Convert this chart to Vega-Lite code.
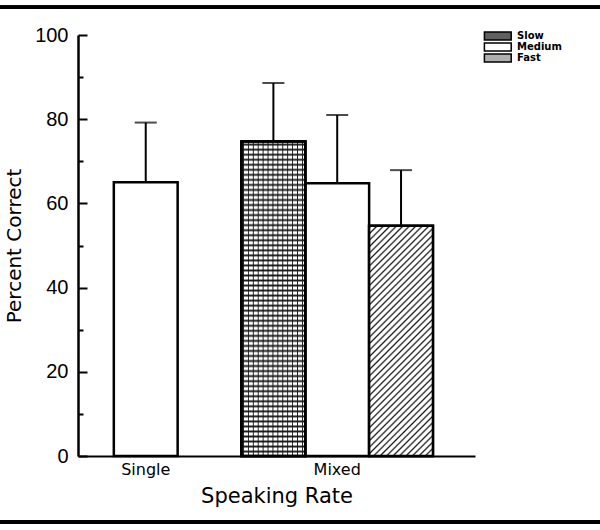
{
  "$schema": "https://vega.github.io/schema/vega-lite/v6.json",
  "width": 600,
  "height": 530,
  "autosize": {"type": "none"},
  "padding": 0,
  "background": "white",
  "config": {"view": {"stroke": null}, "font": "DejaVu Sans"},
  "data": {
    "values": [
      {"Rate": "Single", "Speed": "Medium", "Bar": "Single Medium", "pct": 65, "hi": 79.2},
      {"Rate": "Mixed", "Speed": "Slow", "Bar": "Mixed Slow", "pct": 74.7, "hi": 88.6},
      {"Rate": "Mixed", "Speed": "Medium", "Bar": "Mixed Medium", "pct": 64.8, "hi": 81},
      {"Rate": "Mixed", "Speed": "Fast", "Bar": "Mixed Fast", "pct": 54.7, "hi": 67.9}
    ]
  },
  "layer": [
    {
      "mark": {"type": "bar", "stroke": "black", "strokeWidth": 2.5},
      "encoding": {
        "x": {
          "field": "Bar",
          "type": "nominal",
          "sort": null,
          "scale": {
            "domain": ["Single Medium", "gap", "Mixed Slow", "Mixed Medium", "Mixed Fast"],
            "range": [78, 475],
            "paddingInner": 0,
            "paddingOuter": 0.61,
            "align": 0.46
          },
          "axis": {
            "title": "Speaking Rate",
            "labelExpr": "datum.value == 'Single Medium' ? 'Single' : datum.value == 'Mixed Medium' ? 'Mixed' : ''",
            "ticks": false,
            "offset": -74,
            "domainWidth": 2,
            "domainColor": "black",
            "labelAngle": 0,
            "labelFont": "DejaVu Sans",
            "labelFontSize": 16,
            "labelColor": "black",
            "labelPadding": 5,
            "titleFont": "DejaVu Sans",
            "titleFontSize": 21,
            "titleFontWeight": "normal",
            "titleColor": "black",
            "titlePadding": 8
          }
        },
        "y": {
          "field": "pct",
          "type": "quantitative",
          "scale": {"domain": [0, 100], "range": [456, 35], "nice": false},
          "axis": {
            "title": "Percent Correct",
            "values": [0, 10, 20, 30, 40, 50, 60, 70, 80, 90, 100],
            "labelExpr": "datum.value % 20 === 0 ? datum.label : ''",
            "tickSize": {"condition": {"test": "datum.value % 20 === 0", "value": -9}, "value": -5},
            "offset": -78,
            "grid": false,
            "domainWidth": 2.5,
            "domainColor": "black",
            "tickColor": "black",
            "tickWidth": 2,
            "labelFont": "Liberation Sans",
            "labelFontSize": 20,
            "labelColor": "black",
            "labelPadding": 19,
            "titleFont": "DejaVu Sans",
            "titleFontSize": 20,
            "titleFontWeight": "normal",
            "titleColor": "black",
            "titlePadding": 10
          }
        },
        "fill": {
          "field": "Speed",
          "type": "nominal",
          "scale": {"domain": ["Slow", "Medium", "Fast"], "range": ["#606060", "#ffffff", "#b0b0b0"]},
          "legend": {
            "orient": "none",
            "legendX": 483,
            "legendY": 30.5,
            "title": null,
            "padding": 0,
            "symbolType": "M-0.9,-1H5.8V1H-0.9Z",
            "symbolSize": 64,
            "symbolStrokeColor": "black",
            "symbolStrokeWidth": 1.5,
            "symbolOpacity": 1,
            "labelFont": "DejaVu Sans",
            "labelFontSize": 10,
            "labelFontWeight": "bold",
            "labelColor": "black",
            "labelOffset": 24,
            "clipHeight": 11,
            "rowPadding": 0
          }
        }
      }
    },
    {
      "transform": [{"filter": "datum.Speed == 'Slow'"}],
      "mark": {
        "type": "bar", "stroke": "black", "strokeWidth": 2.5,
        "fill": {"gradient": "linear", "x1": 0, "y1": 0, "x2": 0, "y2": 1, "stops": [
          {"offset": 0.004, "color": "#fff"}, {"offset": 0.010, "color": "#1a1a1a"}, {"offset": 0.016, "color": "#fff"},
          {"offset": 0.020, "color": "#fff"}, {"offset": 0.026, "color": "#1a1a1a"}, {"offset": 0.032, "color": "#fff"},
          {"offset": 0.036, "color": "#fff"}, {"offset": 0.042, "color": "#1a1a1a"}, {"offset": 0.048, "color": "#fff"},
          {"offset": 0.052, "color": "#fff"}, {"offset": 0.058, "color": "#1a1a1a"}, {"offset": 0.064, "color": "#fff"},
          {"offset": 0.068, "color": "#fff"}, {"offset": 0.074, "color": "#1a1a1a"}, {"offset": 0.080, "color": "#fff"},
          {"offset": 0.084, "color": "#fff"}, {"offset": 0.090, "color": "#1a1a1a"}, {"offset": 0.096, "color": "#fff"},
          {"offset": 0.100, "color": "#fff"}, {"offset": 0.106, "color": "#1a1a1a"}, {"offset": 0.112, "color": "#fff"},
          {"offset": 0.116, "color": "#fff"}, {"offset": 0.122, "color": "#1a1a1a"}, {"offset": 0.128, "color": "#fff"},
          {"offset": 0.132, "color": "#fff"}, {"offset": 0.138, "color": "#1a1a1a"}, {"offset": 0.144, "color": "#fff"},
          {"offset": 0.148, "color": "#fff"}, {"offset": 0.154, "color": "#1a1a1a"}, {"offset": 0.160, "color": "#fff"},
          {"offset": 0.164, "color": "#fff"}, {"offset": 0.170, "color": "#1a1a1a"}, {"offset": 0.176, "color": "#fff"},
          {"offset": 0.180, "color": "#fff"}, {"offset": 0.186, "color": "#1a1a1a"}, {"offset": 0.192, "color": "#fff"},
          {"offset": 0.196, "color": "#fff"}, {"offset": 0.202, "color": "#1a1a1a"}, {"offset": 0.208, "color": "#fff"},
          {"offset": 0.212, "color": "#fff"}, {"offset": 0.218, "color": "#1a1a1a"}, {"offset": 0.224, "color": "#fff"},
          {"offset": 0.228, "color": "#fff"}, {"offset": 0.234, "color": "#1a1a1a"}, {"offset": 0.240, "color": "#fff"},
          {"offset": 0.244, "color": "#fff"}, {"offset": 0.250, "color": "#1a1a1a"}, {"offset": 0.256, "color": "#fff"},
          {"offset": 0.260, "color": "#fff"}, {"offset": 0.266, "color": "#1a1a1a"}, {"offset": 0.272, "color": "#fff"},
          {"offset": 0.276, "color": "#fff"}, {"offset": 0.282, "color": "#1a1a1a"}, {"offset": 0.288, "color": "#fff"},
          {"offset": 0.292, "color": "#fff"}, {"offset": 0.298, "color": "#1a1a1a"}, {"offset": 0.304, "color": "#fff"},
          {"offset": 0.308, "color": "#fff"}, {"offset": 0.314, "color": "#1a1a1a"}, {"offset": 0.320, "color": "#fff"},
          {"offset": 0.324, "color": "#fff"}, {"offset": 0.330, "color": "#1a1a1a"}, {"offset": 0.336, "color": "#fff"},
          {"offset": 0.340, "color": "#fff"}, {"offset": 0.346, "color": "#1a1a1a"}, {"offset": 0.352, "color": "#fff"},
          {"offset": 0.356, "color": "#fff"}, {"offset": 0.362, "color": "#1a1a1a"}, {"offset": 0.368, "color": "#fff"},
          {"offset": 0.372, "color": "#fff"}, {"offset": 0.378, "color": "#1a1a1a"}, {"offset": 0.384, "color": "#fff"},
          {"offset": 0.388, "color": "#fff"}, {"offset": 0.394, "color": "#1a1a1a"}, {"offset": 0.400, "color": "#fff"},
          {"offset": 0.404, "color": "#fff"}, {"offset": 0.410, "color": "#1a1a1a"}, {"offset": 0.416, "color": "#fff"},
          {"offset": 0.420, "color": "#fff"}, {"offset": 0.426, "color": "#1a1a1a"}, {"offset": 0.432, "color": "#fff"},
          {"offset": 0.436, "color": "#fff"}, {"offset": 0.442, "color": "#1a1a1a"}, {"offset": 0.448, "color": "#fff"},
          {"offset": 0.452, "color": "#fff"}, {"offset": 0.458, "color": "#1a1a1a"}, {"offset": 0.464, "color": "#fff"},
          {"offset": 0.468, "color": "#fff"}, {"offset": 0.474, "color": "#1a1a1a"}, {"offset": 0.480, "color": "#fff"},
          {"offset": 0.484, "color": "#fff"}, {"offset": 0.490, "color": "#1a1a1a"}, {"offset": 0.496, "color": "#fff"},
          {"offset": 0.500, "color": "#fff"}, {"offset": 0.506, "color": "#1a1a1a"}, {"offset": 0.512, "color": "#fff"},
          {"offset": 0.516, "color": "#fff"}, {"offset": 0.522, "color": "#1a1a1a"}, {"offset": 0.528, "color": "#fff"},
          {"offset": 0.532, "color": "#fff"}, {"offset": 0.538, "color": "#1a1a1a"}, {"offset": 0.544, "color": "#fff"},
          {"offset": 0.548, "color": "#fff"}, {"offset": 0.554, "color": "#1a1a1a"}, {"offset": 0.560, "color": "#fff"},
          {"offset": 0.564, "color": "#fff"}, {"offset": 0.570, "color": "#1a1a1a"}, {"offset": 0.576, "color": "#fff"},
          {"offset": 0.580, "color": "#fff"}, {"offset": 0.586, "color": "#1a1a1a"}, {"offset": 0.592, "color": "#fff"},
          {"offset": 0.596, "color": "#fff"}, {"offset": 0.602, "color": "#1a1a1a"}, {"offset": 0.608, "color": "#fff"},
          {"offset": 0.612, "color": "#fff"}, {"offset": 0.618, "color": "#1a1a1a"}, {"offset": 0.624, "color": "#fff"},
          {"offset": 0.628, "color": "#fff"}, {"offset": 0.634, "color": "#1a1a1a"}, {"offset": 0.640, "color": "#fff"},
          {"offset": 0.644, "color": "#fff"}, {"offset": 0.650, "color": "#1a1a1a"}, {"offset": 0.656, "color": "#fff"},
          {"offset": 0.660, "color": "#fff"}, {"offset": 0.666, "color": "#1a1a1a"}, {"offset": 0.672, "color": "#fff"},
          {"offset": 0.676, "color": "#fff"}, {"offset": 0.682, "color": "#1a1a1a"}, {"offset": 0.688, "color": "#fff"},
          {"offset": 0.692, "color": "#fff"}, {"offset": 0.698, "color": "#1a1a1a"}, {"offset": 0.704, "color": "#fff"},
          {"offset": 0.708, "color": "#fff"}, {"offset": 0.714, "color": "#1a1a1a"}, {"offset": 0.720, "color": "#fff"},
          {"offset": 0.724, "color": "#fff"}, {"offset": 0.730, "color": "#1a1a1a"}, {"offset": 0.736, "color": "#fff"},
          {"offset": 0.740, "color": "#fff"}, {"offset": 0.746, "color": "#1a1a1a"}, {"offset": 0.752, "color": "#fff"},
          {"offset": 0.756, "color": "#fff"}, {"offset": 0.762, "color": "#1a1a1a"}, {"offset": 0.768, "color": "#fff"},
          {"offset": 0.772, "color": "#fff"}, {"offset": 0.778, "color": "#1a1a1a"}, {"offset": 0.784, "color": "#fff"},
          {"offset": 0.788, "color": "#fff"}, {"offset": 0.794, "color": "#1a1a1a"}, {"offset": 0.800, "color": "#fff"},
          {"offset": 0.804, "color": "#fff"}, {"offset": 0.810, "color": "#1a1a1a"}, {"offset": 0.816, "color": "#fff"},
          {"offset": 0.820, "color": "#fff"}, {"offset": 0.826, "color": "#1a1a1a"}, {"offset": 0.832, "color": "#fff"},
          {"offset": 0.836, "color": "#fff"}, {"offset": 0.842, "color": "#1a1a1a"}, {"offset": 0.848, "color": "#fff"},
          {"offset": 0.852, "color": "#fff"}, {"offset": 0.858, "color": "#1a1a1a"}, {"offset": 0.864, "color": "#fff"},
          {"offset": 0.868, "color": "#fff"}, {"offset": 0.874, "color": "#1a1a1a"}, {"offset": 0.880, "color": "#fff"},
          {"offset": 0.884, "color": "#fff"}, {"offset": 0.890, "color": "#1a1a1a"}, {"offset": 0.896, "color": "#fff"},
          {"offset": 0.900, "color": "#fff"}, {"offset": 0.906, "color": "#1a1a1a"}, {"offset": 0.912, "color": "#fff"},
          {"offset": 0.916, "color": "#fff"}, {"offset": 0.922, "color": "#1a1a1a"}, {"offset": 0.928, "color": "#fff"},
          {"offset": 0.932, "color": "#fff"}, {"offset": 0.938, "color": "#1a1a1a"}, {"offset": 0.944, "color": "#fff"},
          {"offset": 0.948, "color": "#fff"}, {"offset": 0.954, "color": "#1a1a1a"}, {"offset": 0.960, "color": "#fff"},
          {"offset": 0.964, "color": "#fff"}, {"offset": 0.970, "color": "#1a1a1a"}, {"offset": 0.976, "color": "#fff"},
          {"offset": 0.980, "color": "#fff"}, {"offset": 0.986, "color": "#1a1a1a"}, {"offset": 0.992, "color": "#fff"}
        ]}
      },
      "encoding": {
        "x": {"field": "Bar", "type": "nominal"},
        "y": {"field": "pct", "type": "quantitative"}
      }
    },
    {
      "transform": [{"filter": "datum.Speed == 'Slow'"}],
      "mark": {
        "type": "bar", "stroke": "black", "strokeWidth": 2.5,
        "fill": {"gradient": "linear", "x1": 0, "y1": 0, "x2": 1, "y2": 0, "stops": [
          {"offset": 0.017, "color": "rgba(0,0,0,0)"}, {"offset": 0.031, "color": "#1a1a1a"}, {"offset": 0.045, "color": "rgba(0,0,0,0)"},
          {"offset": 0.094, "color": "rgba(0,0,0,0)"}, {"offset": 0.108, "color": "#1a1a1a"}, {"offset": 0.122, "color": "rgba(0,0,0,0)"},
          {"offset": 0.171, "color": "rgba(0,0,0,0)"}, {"offset": 0.185, "color": "#1a1a1a"}, {"offset": 0.199, "color": "rgba(0,0,0,0)"},
          {"offset": 0.248, "color": "rgba(0,0,0,0)"}, {"offset": 0.262, "color": "#1a1a1a"}, {"offset": 0.276, "color": "rgba(0,0,0,0)"},
          {"offset": 0.325, "color": "rgba(0,0,0,0)"}, {"offset": 0.339, "color": "#1a1a1a"}, {"offset": 0.353, "color": "rgba(0,0,0,0)"},
          {"offset": 0.402, "color": "rgba(0,0,0,0)"}, {"offset": 0.416, "color": "#1a1a1a"}, {"offset": 0.430, "color": "rgba(0,0,0,0)"},
          {"offset": 0.479, "color": "rgba(0,0,0,0)"}, {"offset": 0.493, "color": "#1a1a1a"}, {"offset": 0.507, "color": "rgba(0,0,0,0)"},
          {"offset": 0.556, "color": "rgba(0,0,0,0)"}, {"offset": 0.570, "color": "#1a1a1a"}, {"offset": 0.584, "color": "rgba(0,0,0,0)"},
          {"offset": 0.633, "color": "rgba(0,0,0,0)"}, {"offset": 0.647, "color": "#1a1a1a"}, {"offset": 0.661, "color": "rgba(0,0,0,0)"},
          {"offset": 0.710, "color": "rgba(0,0,0,0)"}, {"offset": 0.724, "color": "#1a1a1a"}, {"offset": 0.738, "color": "rgba(0,0,0,0)"},
          {"offset": 0.787, "color": "rgba(0,0,0,0)"}, {"offset": 0.801, "color": "#1a1a1a"}, {"offset": 0.815, "color": "rgba(0,0,0,0)"},
          {"offset": 0.864, "color": "rgba(0,0,0,0)"}, {"offset": 0.878, "color": "#1a1a1a"}, {"offset": 0.892, "color": "rgba(0,0,0,0)"},
          {"offset": 0.941, "color": "rgba(0,0,0,0)"}, {"offset": 0.955, "color": "#1a1a1a"}, {"offset": 0.969, "color": "rgba(0,0,0,0)"}
        ]}
      },
      "encoding": {
        "x": {"field": "Bar", "type": "nominal"},
        "y": {"field": "pct", "type": "quantitative"}
      }
    },
    {
      "transform": [{"filter": "datum.Speed == 'Fast'"}],
      "mark": {
        "type": "bar", "stroke": "black", "strokeWidth": 2.5,
        "fill": {"gradient": "linear", "x1": 0, "y1": 0, "x2": 0.3286, "y2": 1.186, "stops": [
          {"offset": 0.000, "color": "#fff"}, {"offset": 0.006, "color": "#1a1a1a"}, {"offset": 0.012, "color": "#fff"},
          {"offset": 0.022, "color": "#fff"}, {"offset": 0.028, "color": "#1a1a1a"}, {"offset": 0.034, "color": "#fff"},
          {"offset": 0.044, "color": "#fff"}, {"offset": 0.050, "color": "#1a1a1a"}, {"offset": 0.056, "color": "#fff"},
          {"offset": 0.066, "color": "#fff"}, {"offset": 0.072, "color": "#1a1a1a"}, {"offset": 0.078, "color": "#fff"},
          {"offset": 0.088, "color": "#fff"}, {"offset": 0.094, "color": "#1a1a1a"}, {"offset": 0.100, "color": "#fff"},
          {"offset": 0.110, "color": "#fff"}, {"offset": 0.116, "color": "#1a1a1a"}, {"offset": 0.122, "color": "#fff"},
          {"offset": 0.132, "color": "#fff"}, {"offset": 0.138, "color": "#1a1a1a"}, {"offset": 0.144, "color": "#fff"},
          {"offset": 0.154, "color": "#fff"}, {"offset": 0.160, "color": "#1a1a1a"}, {"offset": 0.166, "color": "#fff"},
          {"offset": 0.176, "color": "#fff"}, {"offset": 0.182, "color": "#1a1a1a"}, {"offset": 0.188, "color": "#fff"},
          {"offset": 0.198, "color": "#fff"}, {"offset": 0.204, "color": "#1a1a1a"}, {"offset": 0.210, "color": "#fff"},
          {"offset": 0.220, "color": "#fff"}, {"offset": 0.226, "color": "#1a1a1a"}, {"offset": 0.232, "color": "#fff"},
          {"offset": 0.242, "color": "#fff"}, {"offset": 0.248, "color": "#1a1a1a"}, {"offset": 0.254, "color": "#fff"},
          {"offset": 0.264, "color": "#fff"}, {"offset": 0.270, "color": "#1a1a1a"}, {"offset": 0.276, "color": "#fff"},
          {"offset": 0.286, "color": "#fff"}, {"offset": 0.292, "color": "#1a1a1a"}, {"offset": 0.298, "color": "#fff"},
          {"offset": 0.308, "color": "#fff"}, {"offset": 0.314, "color": "#1a1a1a"}, {"offset": 0.320, "color": "#fff"},
          {"offset": 0.330, "color": "#fff"}, {"offset": 0.336, "color": "#1a1a1a"}, {"offset": 0.342, "color": "#fff"},
          {"offset": 0.352, "color": "#fff"}, {"offset": 0.358, "color": "#1a1a1a"}, {"offset": 0.364, "color": "#fff"},
          {"offset": 0.374, "color": "#fff"}, {"offset": 0.380, "color": "#1a1a1a"}, {"offset": 0.386, "color": "#fff"},
          {"offset": 0.396, "color": "#fff"}, {"offset": 0.402, "color": "#1a1a1a"}, {"offset": 0.408, "color": "#fff"},
          {"offset": 0.418, "color": "#fff"}, {"offset": 0.424, "color": "#1a1a1a"}, {"offset": 0.430, "color": "#fff"},
          {"offset": 0.440, "color": "#fff"}, {"offset": 0.446, "color": "#1a1a1a"}, {"offset": 0.452, "color": "#fff"},
          {"offset": 0.462, "color": "#fff"}, {"offset": 0.468, "color": "#1a1a1a"}, {"offset": 0.474, "color": "#fff"},
          {"offset": 0.484, "color": "#fff"}, {"offset": 0.490, "color": "#1a1a1a"}, {"offset": 0.496, "color": "#fff"},
          {"offset": 0.506, "color": "#fff"}, {"offset": 0.512, "color": "#1a1a1a"}, {"offset": 0.518, "color": "#fff"},
          {"offset": 0.528, "color": "#fff"}, {"offset": 0.534, "color": "#1a1a1a"}, {"offset": 0.540, "color": "#fff"},
          {"offset": 0.550, "color": "#fff"}, {"offset": 0.556, "color": "#1a1a1a"}, {"offset": 0.562, "color": "#fff"},
          {"offset": 0.572, "color": "#fff"}, {"offset": 0.578, "color": "#1a1a1a"}, {"offset": 0.584, "color": "#fff"},
          {"offset": 0.594, "color": "#fff"}, {"offset": 0.600, "color": "#1a1a1a"}, {"offset": 0.606, "color": "#fff"},
          {"offset": 0.616, "color": "#fff"}, {"offset": 0.622, "color": "#1a1a1a"}, {"offset": 0.628, "color": "#fff"},
          {"offset": 0.638, "color": "#fff"}, {"offset": 0.644, "color": "#1a1a1a"}, {"offset": 0.650, "color": "#fff"},
          {"offset": 0.660, "color": "#fff"}, {"offset": 0.666, "color": "#1a1a1a"}, {"offset": 0.672, "color": "#fff"},
          {"offset": 0.682, "color": "#fff"}, {"offset": 0.688, "color": "#1a1a1a"}, {"offset": 0.694, "color": "#fff"},
          {"offset": 0.704, "color": "#fff"}, {"offset": 0.710, "color": "#1a1a1a"}, {"offset": 0.716, "color": "#fff"},
          {"offset": 0.726, "color": "#fff"}, {"offset": 0.732, "color": "#1a1a1a"}, {"offset": 0.738, "color": "#fff"},
          {"offset": 0.748, "color": "#fff"}, {"offset": 0.754, "color": "#1a1a1a"}, {"offset": 0.760, "color": "#fff"},
          {"offset": 0.770, "color": "#fff"}, {"offset": 0.776, "color": "#1a1a1a"}, {"offset": 0.782, "color": "#fff"},
          {"offset": 0.792, "color": "#fff"}, {"offset": 0.798, "color": "#1a1a1a"}, {"offset": 0.804, "color": "#fff"},
          {"offset": 0.814, "color": "#fff"}, {"offset": 0.820, "color": "#1a1a1a"}, {"offset": 0.826, "color": "#fff"},
          {"offset": 0.836, "color": "#fff"}, {"offset": 0.842, "color": "#1a1a1a"}, {"offset": 0.848, "color": "#fff"},
          {"offset": 0.858, "color": "#fff"}, {"offset": 0.864, "color": "#1a1a1a"}, {"offset": 0.870, "color": "#fff"},
          {"offset": 0.880, "color": "#fff"}, {"offset": 0.886, "color": "#1a1a1a"}, {"offset": 0.892, "color": "#fff"},
          {"offset": 0.902, "color": "#fff"}, {"offset": 0.908, "color": "#1a1a1a"}, {"offset": 0.914, "color": "#fff"},
          {"offset": 0.924, "color": "#fff"}, {"offset": 0.930, "color": "#1a1a1a"}, {"offset": 0.936, "color": "#fff"},
          {"offset": 0.946, "color": "#fff"}, {"offset": 0.952, "color": "#1a1a1a"}, {"offset": 0.958, "color": "#fff"},
          {"offset": 0.968, "color": "#fff"}, {"offset": 0.974, "color": "#1a1a1a"}, {"offset": 0.980, "color": "#fff"}
        ]}
      },
      "encoding": {
        "x": {"field": "Bar", "type": "nominal"},
        "y": {"field": "pct", "type": "quantitative"}
      }
    },
    {
      "mark": {"type": "rule", "strokeWidth": 2, "color": "black"},
      "encoding": {
        "x": {"field": "Bar", "type": "nominal"},
        "y": {"field": "pct", "type": "quantitative"},
        "y2": {"field": "hi"}
      }
    },
    {
      "mark": {"type": "tick", "color": "black", "size": 22, "thickness": 2},
      "encoding": {
        "x": {"field": "Bar", "type": "nominal"},
        "y": {"field": "hi", "type": "quantitative"}
      }
    },
    {
      "mark": {"type": "rule", "strokeWidth": 3.5, "color": "black", "clip": false},
      "encoding": {"y": {"datum": 106.6, "type": "quantitative"}}
    },
    {
      "mark": {"type": "rule", "strokeWidth": 3.5, "color": "black", "clip": false},
      "encoding": {"y": {"datum": -15.7, "type": "quantitative"}}
    }
  ]
}
